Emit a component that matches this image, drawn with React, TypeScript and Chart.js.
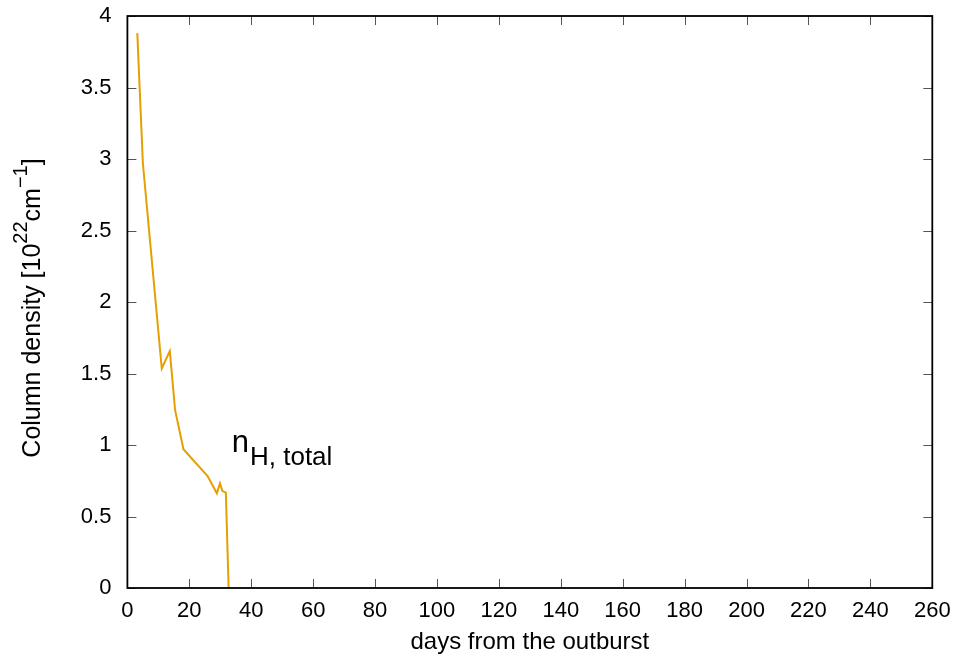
import React, { useEffect, useRef } from "react";
import { Chart, registerables } from "chart.js";

Chart.register(...registerables);

// ---- data ----
const days: number[] = [3.2, 5.0, 11.1, 13.7, 15.4, 18.1, 25.9, 28.9, 29.9, 30.7, 31.8, 32.7];
const nHTotal: number[] = [3.88, 2.97, 1.536, 1.657, 1.245, 0.97, 0.783, 0.662, 0.732, 0.678, 0.667, 0];
const xTickValues: number[] = [0, 20, 40, 60, 80, 100, 120, 140, 160, 180, 200, 220, 240, 260];
const yTickValues: number[] = [0, 0.5, 1, 1.5, 2, 2.5, 3, 3.5, 4];
const yTickLabels: string[] = ["0", "0.5", "1", "1.5", "2", "2.5", "3", "3.5", "4"];
const seriesLabel = "n_H, total";
const xTitle = "days from the outburst";

const FONT = "'Liberation Sans', Arial, Helvetica, sans-serif";
const LINE_COLOR = "#e69f00";

const frameAndTicks = {
  id: "frameAndTicks",
  afterDatasetsDraw(chart: any) {
    const { ctx, chartArea: a, scales } = chart;
    const x = scales.x;
    const y = scales.y;
    const tl = 9;
    ctx.save();
    ctx.strokeStyle = "#555555";
    ctx.lineWidth = 1;
    ctx.beginPath();
    xTickValues.forEach((v) => {
      const px = Math.round(x.getPixelForValue(v)) + 0.5;
      ctx.moveTo(px, a.bottom);
      ctx.lineTo(px, a.bottom - tl);
      ctx.moveTo(px, a.top);
      ctx.lineTo(px, a.top + tl);
    });
    yTickValues.forEach((v) => {
      const py = Math.round(y.getPixelForValue(v)) + 0.5;
      ctx.moveTo(a.left, py);
      ctx.lineTo(a.left + tl, py);
      ctx.moveTo(a.right, py);
      ctx.lineTo(a.right - tl, py);
    });
    ctx.stroke();
    ctx.strokeStyle = "#000000";
    ctx.lineWidth = 1.8;
    ctx.strokeRect(a.left, a.top, a.right - a.left, a.bottom - a.top);
    ctx.restore();
  },
  afterDraw(chart: any) {
    const { ctx, chartArea: a, scales } = chart;
    // series label n_{H, total}
    const lx = scales.x.getPixelForValue(33.7);
    const ly = scales.y.getPixelForValue(0.953);
    ctx.save();
    ctx.fillStyle = "#000";
    ctx.textBaseline = "alphabetic";
    ctx.textAlign = "left";
    const parts = seriesLabel.split("_");
    ctx.font = `31px ${FONT}`;
    ctx.fillText(parts[0], lx, ly);
    const w0 = ctx.measureText(parts[0]).width;
    ctx.font = `26px ${FONT}`;
    ctx.fillText(parts[1], lx + w0 + 1, ly + 13);
    ctx.restore();

    // y axis title with superscripts
    const segs: { t: string; sup: boolean }[] = [
      { t: "Column density [10", sup: false },
      { t: "22", sup: true },
      { t: "cm", sup: false },
      { t: "\u22121", sup: true },
      { t: "]", sup: false },
    ];
    const base = 25;
    const supSize = 20;
    ctx.save();
    let total = 0;
    segs.forEach((s) => {
      ctx.font = `${s.sup ? supSize : base}px ${FONT}`;
      total += ctx.measureText(s.t).width;
    });
    const cy = (a.top + a.bottom) / 2 + 6;
    ctx.translate(40, cy);
    ctx.rotate(-Math.PI / 2);
    ctx.fillStyle = "#000";
    ctx.textBaseline = "alphabetic";
    ctx.textAlign = "left";
    let cx = -total / 2;
    segs.forEach((s) => {
      ctx.font = `${s.sup ? supSize : base}px ${FONT}`;
      ctx.fillText(s.t, cx, s.sup ? -13 : 0);
      cx += ctx.measureText(s.t).width;
    });
    ctx.restore();
  },
};

export default function App() {
  const ref = useRef<HTMLCanvasElement | null>(null);
  useEffect(() => {
    document.body.style.margin = "0";
    if (!ref.current) return;
    const chart = new Chart(ref.current, {
      type: "line",
      data: {
        datasets: [
          {
            label: seriesLabel,
            data: days.map((d, i) => ({ x: d, y: nHTotal[i] })),
            borderColor: LINE_COLOR,
            backgroundColor: LINE_COLOR,
            borderWidth: 2,
            pointRadius: 0,
            tension: 0,
            fill: false,
          },
        ],
      },
      options: {
        animation: false,
        responsive: true,
        maintainAspectRatio: false,
        layout: { padding: { left: 0, right: 28.7, top: 16, bottom: 0 } },
        plugins: {
          legend: { display: false },
          tooltip: { enabled: false },
        },
        scales: {
          x: {
            type: "linear",
            min: 0,
            max: 260,
            afterFit: (s: any) => {
              s.height = 76;
              s.paddingLeft = 0;
              s.paddingRight = 0;
            },
            afterBuildTicks: (s: any) => {
              s.ticks = xTickValues.map((v) => ({ value: v }));
            },
            grid: { display: false, drawTicks: false },
            border: { display: false },
            ticks: {
              color: "#000",
              padding: 10,
              maxRotation: 0,
              autoSkip: false,
              font: { family: FONT, size: 22 },
            },
            title: {
              display: true,
              text: xTitle,
              color: "#000",
              padding: { top: 0, bottom: 7 },
              font: { family: FONT, size: 24 },
            },
          },
          y: {
            type: "linear",
            min: 0,
            max: 4,
            afterFit: (s: any) => {
              s.width = 127.4;
              s.paddingTop = 0;
              s.paddingBottom = 0;
            },
            afterBuildTicks: (s: any) => {
              s.ticks = yTickValues.map((v) => ({ value: v }));
            },
            grid: { display: false, drawTicks: false },
            border: { display: false },
            ticks: {
              color: "#000",
              padding: 16,
              autoSkip: false,
              font: { family: FONT, size: 22 },
              callback: (v: any) => {
                const i = yTickValues.indexOf(Number(v));
                return i >= 0 ? yTickLabels[i] : String(v);
              },
            },
          },
        },
      },
      plugins: [frameAndTicks],
    });
    return () => chart.destroy();
  }, []);
  return (
    <div style={{ width: 961, height: 664, position: "relative", background: "#fff" }}>
      <canvas ref={ref} />
    </div>
  );
}
